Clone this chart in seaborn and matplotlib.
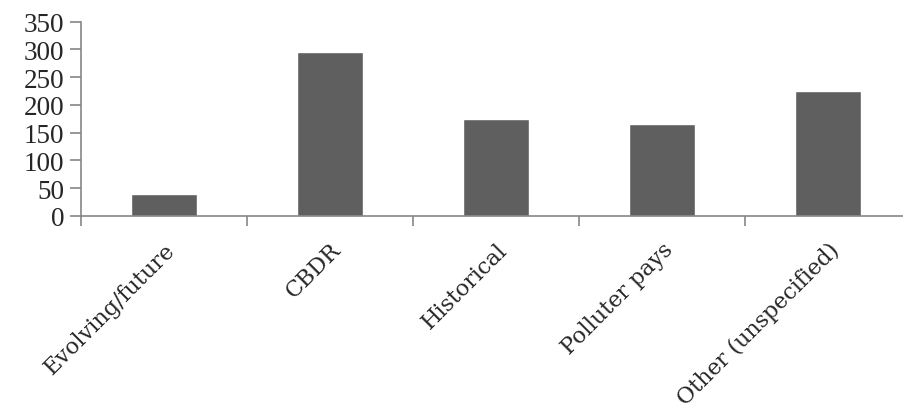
import pandas as pd
import seaborn as sns
import matplotlib.pyplot as plt

# Values
categories = ["Evolving/future", "CBDR", "Historical", "Polluter pays", "Other (unspecified)"]
counts = [40, 296, 175, 166, 225]
y_ticks = [0, 50, 100, 150, 200, 250, 300, 350]

df = pd.DataFrame({"category": categories, "count": counts})

sns.set_style("ticks")
plt.rcParams['font.family'] = ['Liberation Serif', 'DejaVu Serif']

fig = plt.figure(figsize=(9.04, 4.06), dpi=100)
ax = fig.add_axes([81 / 904, 1 - 217 / 406, 830 / 904, (217 - 22.7) / 406])

sns.barplot(data=df, x="category", y="count", color="#5f5f5f", saturation=1,
            width=0.4, ax=ax)

axis_grey = "#868686"
ax.set_xlim(-0.5, len(categories) - 0.5)
ax.set_ylim(0, 350)
ax.set_yticks(y_ticks)
ax.set_yticklabels([str(v) for v in y_ticks], fontsize=19.5)
ax.set_xlabel("")
ax.set_ylabel("")

# category ticks sit between bars, labels at bar centres
ax.set_xticks([i - 0.5 for i in range(len(categories) + 1)], minor=False)
ax.set_xticklabels([])
ax.set_xticks(range(len(categories)), minor=True)
ax.set_xticklabels(categories, minor=True, rotation=45, ha="right",
                   rotation_mode="anchor", fontsize=16,
                   family=['DejaVu Serif'])
ax.tick_params(axis="x", which="minor", bottom=True, length=0, pad=16)
ax.tick_params(axis="x", which="major", bottom=True, length=7, width=1.2,
               color=axis_grey, direction="out")
ax.tick_params(axis="y", left=True, length=8, width=1.2, color=axis_grey,
               direction="out", pad=4)

for side in ["top", "right"]:
    ax.spines[side].set_visible(False)
for side in ["left", "bottom"]:
    ax.spines[side].set_color(axis_grey)
    ax.spines[side].set_linewidth(1.2)

plt.savefig("out.png", dpi=100)
